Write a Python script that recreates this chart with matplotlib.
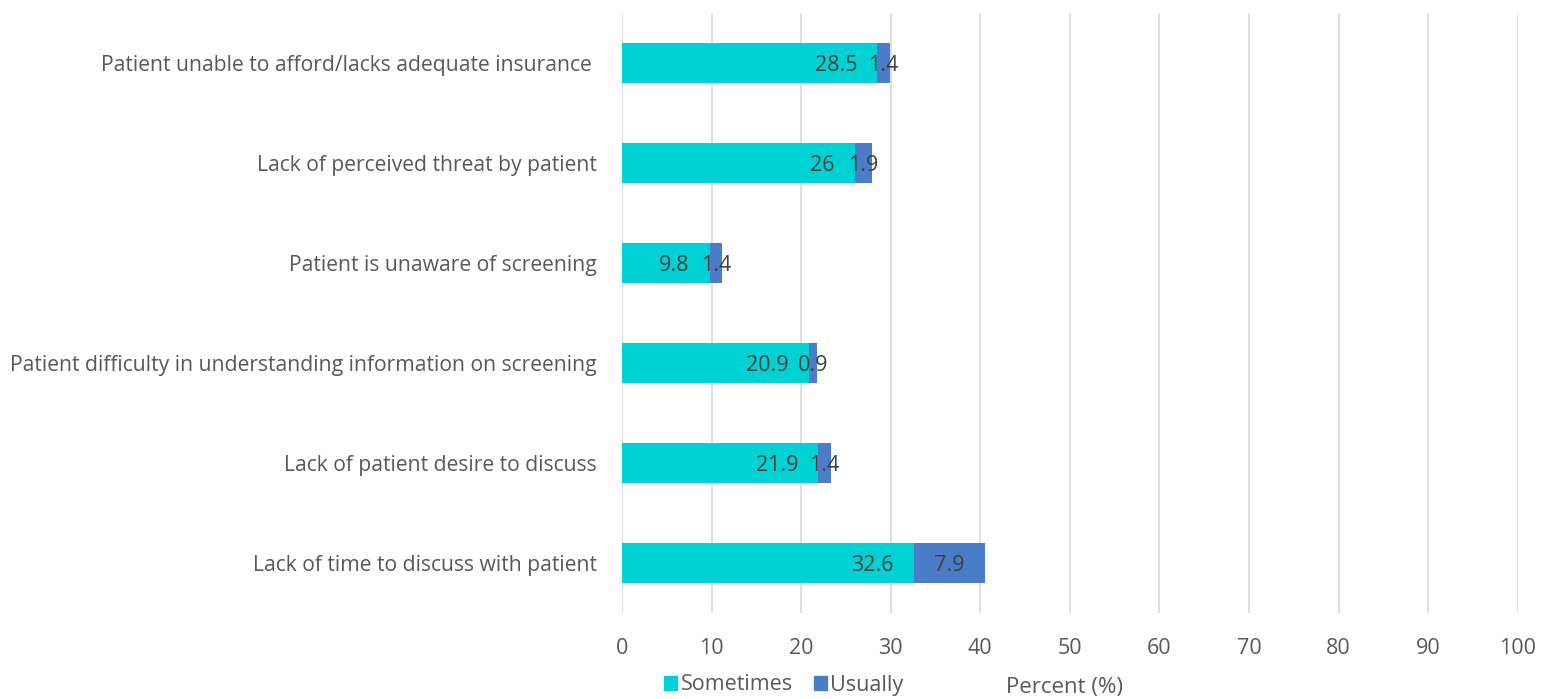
import matplotlib
matplotlib.use("Agg")
import matplotlib.pyplot as plt
from matplotlib.patches import Patch

categories = [
    "Patient unable to afford/lacks adequate insurance ",
    "Lack of perceived threat by patient",
    "Patient is unaware of screening",
    "Patient difficulty in understanding information on screening",
    "Lack of patient desire to discuss",
    "Lack of time to discuss with patient",
]
sometimes = [28.5, 26, 9.8, 20.9, 21.9, 32.6]
usually = [1.4, 1.9, 1.4, 0.9, 1.4, 7.9]
x_ticks = [0, 10, 20, 30, 40, 50, 60, 70, 80, 90, 100]

c_some = "#00D2D3"
c_usu = "#4A7CC7"
txt = "#404040"
tick_c = "#595959"

plt.rcParams["font.family"] = ["Open Sans", "DejaVu Sans"]

fig = plt.figure(figsize=(15.55, 6.99), dpi=100)
ax = fig.add_axes([0.4, 1 - 613 / 699, 0.576, 600 / 699])

y = list(range(len(categories)))
ax.barh(y, sometimes, height=0.4, color=c_some, zorder=3)
ax.barh(y, usually, left=sometimes, height=0.4, color=c_usu, zorder=3)

for yi, s, u in zip(y, sometimes, usually):
    ax.annotate(f"{s:g}", xy=(s, yi), xytext=(-14.5, -1.5), textcoords="offset points",
                ha="right", va="center", fontsize=15.5, color=txt, zorder=4)
    ax.annotate(f"{u:g}", xy=(s + u / 2, yi), xytext=(0, -1.5), textcoords="offset points",
                ha="center", va="center", fontsize=15.5, color=txt, zorder=4)

ax.set_xlim(0, 100)
ax.set_ylim(len(categories) - 0.5, -0.5)
ax.set_xticks(x_ticks)
ax.set_yticks(y)
ax.set_yticklabels(categories)
ax.tick_params(axis="x", length=0, pad=18, labelsize=15.5, labelcolor=tick_c)
ax.tick_params(axis="y", length=0, pad=18, labelsize=15.2, labelcolor=tick_c)
ax.xaxis.grid(True, color="#D9D9D9", linewidth=1.2, zorder=0)
ax.set_axisbelow(True)
for sp in ax.spines.values():
    sp.set_visible(False)

handles = [Patch(color=c_some, label="Sometimes"), Patch(color=c_usu, label="Usually")]
fig.legend(handles=handles, loc="center", bbox_to_anchor=(784 / 1555, 1 - 685 / 699),
           ncol=2, frameon=False, fontsize=15.5, labelcolor=tick_c,
           handlelength=0.6, handleheight=0.6, handletextpad=0.15, columnspacing=1.0)
fig.text(1006 / 1555, 1 - 687 / 699, "Percent (%)", ha="left", va="center",
         fontsize=16, color=tick_c)

fig.savefig("out.png", dpi=100, facecolor="white")
